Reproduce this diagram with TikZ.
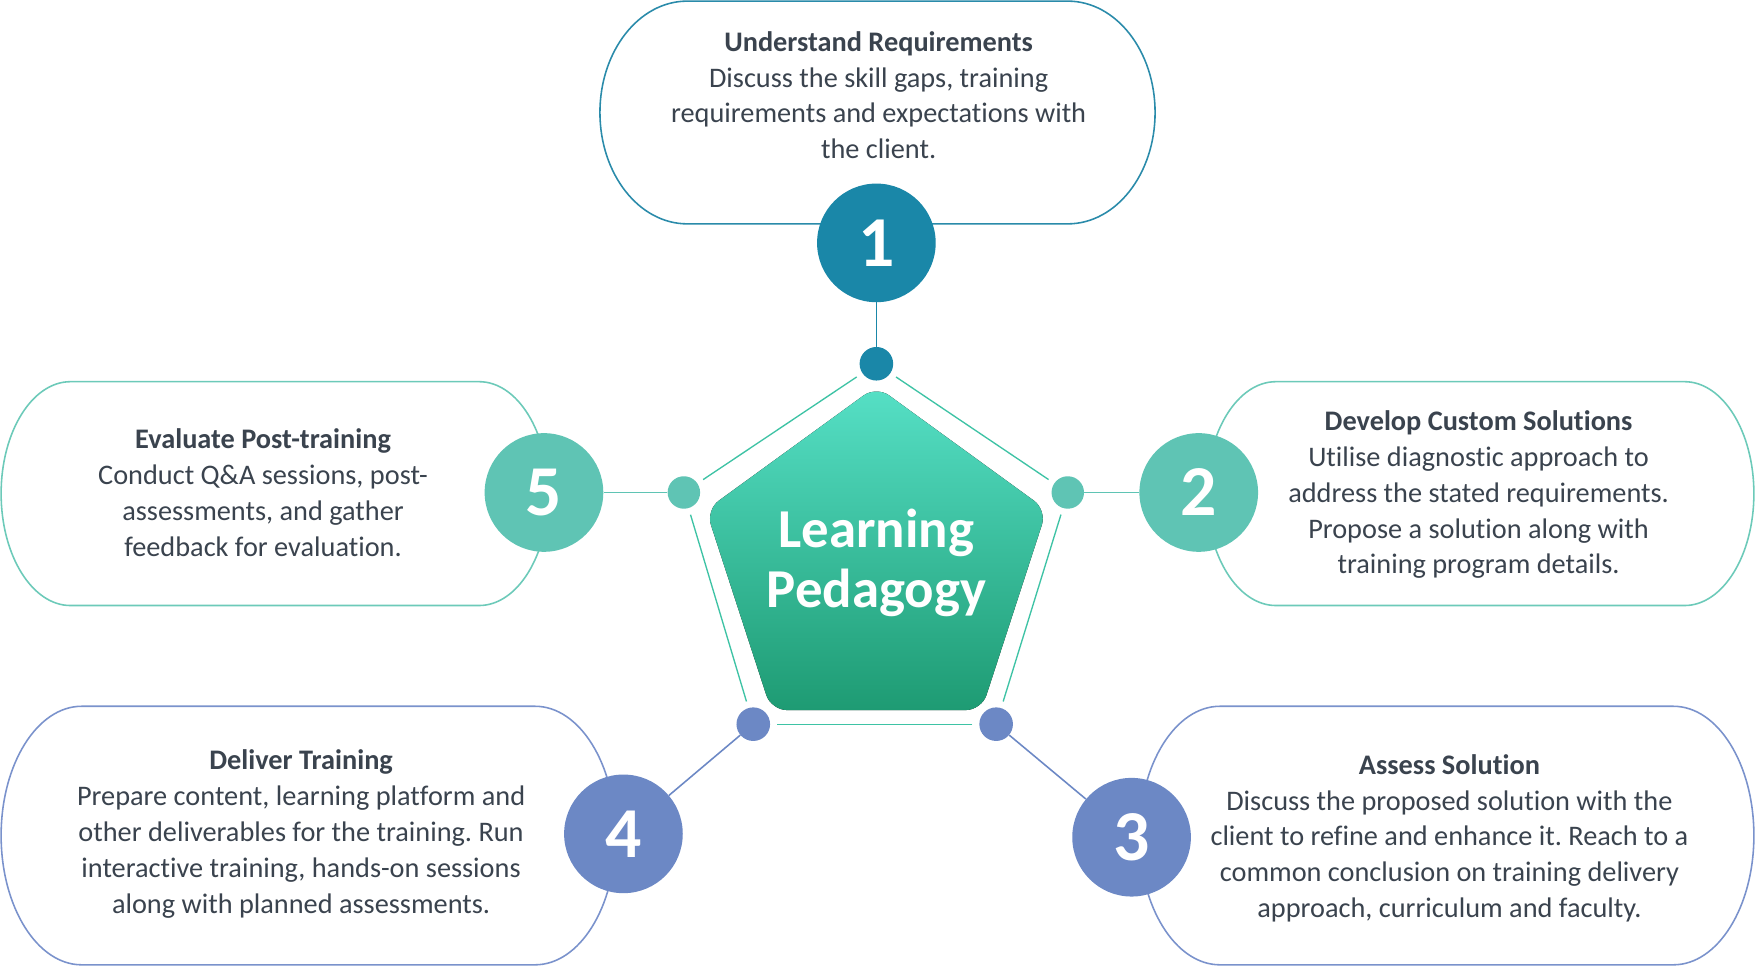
\documentclass[tikz,border=0pt]{standalone}
\usepackage{fontspec}
\setmainfont{Carlito}[Ligatures={NoCommon}]
\usetikzlibrary{calc}
\frenchspacing
\definecolor{cA}{HTML}{1A87A8}
\definecolor{cB}{HTML}{5FC4B4}
\definecolor{cC}{HTML}{6C88C5}
\definecolor{bA}{HTML}{2A8BAA}
\definecolor{bB}{HTML}{6CCAB9}
\definecolor{bC}{HTML}{7A92CC}
\definecolor{txt}{HTML}{3A434E}
\definecolor{pline}{HTML}{3EC3A5}
\definecolor{ptop}{HTML}{56E0C6}
\definecolor{pbot}{HTML}{1E9B73}
\newcommand\stadiumpath[6]{%
 \draw[#1] ({#2+#6},#3) -- ({#4-#6},#3)
   arc[start angle=-90,end angle=90,x radius=#6,y radius={(#5-#3)/2}]
   -- ({#2+#6},#5)
   arc[start angle=90,end angle=270,x radius=#6,y radius={(#5-#3)/2}] -- cycle;}
\tikzset{
 numc/.style={circle, minimum size=106pt, inner sep=0pt, text=white, font=\fontsize{64}{64}\selectfont\bfseries},
 dotnode/.style={circle, minimum size=30pt, inner sep=0pt},
 desc/.style={align=center, text=txt, font=\fontsize{25.3}{32}\selectfont, inner sep=0pt},
 boxline/.style={line width=1.4pt},
 link/.style={line width=1.4pt},
 pent/.style={pline, line width=1.2pt, shorten <=6pt, shorten >=6pt},
}
\begin{document}
\begin{tikzpicture}[x=1pt,y=-1pt]
\fill[white] (0,0) rectangle (1568,863);
\useasboundingbox (0,0) rectangle (1568,863);
% boxes
\stadiumpath{boxline,bA}{536}{1}{1032}{200}{78}
\stadiumpath{boxline,bB}{1078}{341}{1567}{541}{62}
\stadiumpath{boxline,bB}{1}{341}{490}{541}{62}
\stadiumpath{boxline,bC}{1}{631}{550}{862}{72}
\stadiumpath{boxline,bC}{1018}{631}{1567}{862}{72}
% inner pentagon
\coordinate (pT) at (783,345);
\coordinate (pR) at (935.2,455.6);
\coordinate (pBR) at (877,634.4);
\coordinate (pBL) at (689,634.4);
\coordinate (pL) at (630.8,455.6);
\fill[top color=ptop, bottom color=pbot, rounded corners=14pt]
  (783,634.4) -- (pBL) -- (pL) -- (pT) -- (pR) -- (pBR) -- cycle;
\node[text=white, align=center, font=\fontsize{49}{53}\selectfont\bfseries, inner sep=0pt] (ctr) at (783,503) {Learning\\Pedagogy};
% dots
\node[dotnode, fill=cA] (d1) at (783,325) {};
\node[dotnode, fill=cB, minimum size=29pt] (d2) at (954,440) {};
\node[dotnode, fill=cC] (d3) at (890,647) {};
\node[dotnode, fill=cC] (d4) at (673,647) {};
\node[dotnode, fill=cB, minimum size=29pt] (d5) at (611,440) {};
% outer pentagon lines
\draw[pent] (d1) -- (d2);
\draw[pent] (d2) -- (d3);
\draw[pent] (d3) -- (d4);
\draw[pent] (d4) -- (d5);
\draw[pent] (d5) -- (d1);
% number circles
\node[numc, fill=cA] (n1) at (783,217) {1};
\node[numc, fill=cB] (n2) at (1071,440) {2};
\node[numc, fill=cC] (n3) at (1011,748) {3};
\node[numc, fill=cC] (n4) at (557,745) {4};
\node[numc, fill=cB] (n5) at (486,440) {5};
% connectors
\draw[link, cA] (n1) -- (d1);
\draw[link, cB] (d2) -- (n2);
\draw[link, cC] (d3) -- (n3);
\draw[link, cC] (d4) -- (n4);
\draw[link, cB] (d5) -- (n5);
% texts
\node[desc] (t1) at (785,85) {\textbf{Understand Requirements}\\Discuss the skill gaps, training\\requirements and expectations with\\the client.};
\node[desc] (t2) at (1321,442) {\textbf{Develop Custom Solutions}\\Utilise diagnostic approach to\\address the stated requirements.\\Propose a solution along with\\training program details.};
\node[desc] (t3) at (1295,749) {\textbf{Assess Solution}\\Discuss the proposed solution with the\\client to refine and enhance it. Reach to a\\common conclusion on training delivery\\approach, curriculum and faculty.};
\node[desc] (t4) at (269,745) {\textbf{Deliver Training}\\Prepare content, learning platform and\\other deliverables for the training. Run\\interactive training, hands-on sessions\\along with planned assessments.};
\node[desc] (t5) at (235,440) {\textbf{Evaluate Post-training}\\Conduct Q\&A sessions, post-\\assessments, and gather\\feedback for evaluation.};
\end{tikzpicture}
\end{document}
